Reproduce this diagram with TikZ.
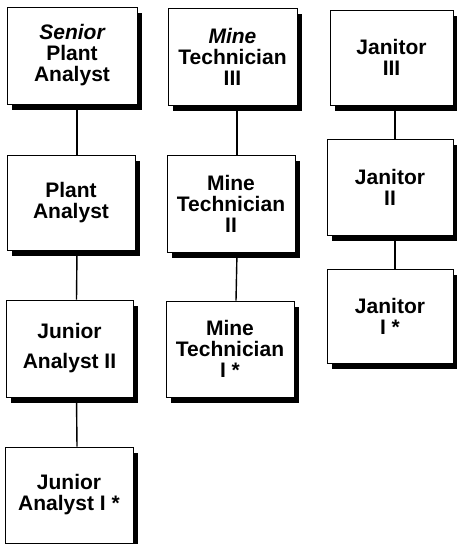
\documentclass[tikz,border=0pt]{standalone}
\usepackage{fontspec}
\setmainfont{Liberation Sans}
\usetikzlibrary{shadows}
\begin{document}
\begin{tikzpicture}[x=1pt,y=-1pt,
  job/.style={draw=black, line width=0.6pt, fill=white, align=center,
    inner sep=0pt, font=\fontsize{21}{21}\selectfont\bfseries,
    drop shadow={shadow xshift=5pt, shadow yshift=-6pt, fill=black, opacity=1}},
  conn/.style={draw=black, line width=1.4pt}]
\useasboundingbox (0,0) rectangle (456,544);
% left column
\node[job, minimum width=130pt, minimum height=97pt] (a1) at (72,55.5) {{\itshape Senior}\\Plant\\Analyst};
\node[job, minimum width=128pt, minimum height=95pt] (a2) at (71,202.5) {Plant\\Analyst};
\node[job, minimum width=127pt, minimum height=97pt] (a3) at (69.5,348.5) {Junior\\[9pt]Analyst II};
\node[job, minimum width=128pt, minimum height=96pt] (a4) at (69,495) {Junior\\Analyst I *};
% middle column
\node[job, minimum width=129pt, minimum height=97pt] (b1) at (232.5,56.5) {{\itshape Mine}\\Technician\\III};
\node[job, minimum width=128pt, minimum height=97pt] (b2) at (231,203.5) {Mine\\Technician\\II};
\node[job, minimum width=128pt, minimum height=96pt] (b3) at (230,349) {Mine\\Technician\\I *};
% right column
\node[job, minimum width=123pt, minimum height=95pt] (c1) at (391.5,57.5) {Janitor\\III};
\node[job, minimum width=126pt, minimum height=96pt] (c2) at (390,187) {Janitor\\II};
\node[job, minimum width=126pt, minimum height=94pt] (c3) at (390,316) {Janitor\\I *};
% connectors
\draw[conn] ([xshift=5pt]a1.south) -- ([xshift=6pt]a2.north);
\draw[conn] ([xshift=6pt]a2.south) -- ([xshift=7pt]a3.north);
\draw[conn] ([xshift=7pt]a3.south) -- ([xshift=8pt]a4.north);
\draw[conn] ([xshift=4.5pt]b1.south) -- ([xshift=6pt]b2.north);
\draw[conn] ([xshift=6pt]b2.south) -- ([xshift=6pt]b3.north);
\draw[conn] ([xshift=3.5pt]c1.south) -- ([xshift=5pt]c2.north);
\draw[conn] ([xshift=5pt]c2.south) -- ([xshift=5pt]c3.north);
\end{tikzpicture}
\end{document}
